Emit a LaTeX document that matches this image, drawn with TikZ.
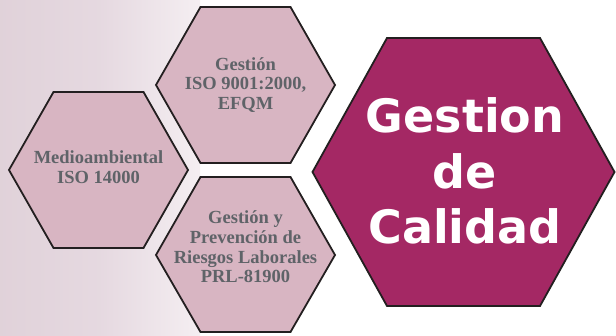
\documentclass[tikz,border=0pt]{standalone}
\usepackage{fontspec}
\newfontfamily\hexserif{Liberation Serif}
\newfontfamily\hexsans{DejaVu Sans}
\definecolor{pinkfill}{RGB}{216,181,194}
\definecolor{bigfill}{RGB}{164,40,100}
\definecolor{edgecol}{RGB}{35,31,32}
\definecolor{txtgray}{RGB}{95,99,104}
\pgfdeclarehorizontalshading{bgfade}{100bp}{
  rgb(0bp)=(0.84,0.75,0.76);
  rgb(6bp)=(0.85,0.77,0.79);
  rgb(14bp)=(0.87,0.81,0.84);
  rgb(50bp)=(0.90,0.85,0.88);
  rgb(80bp)=(0.97,0.95,0.96);
  rgb(100bp)=(1,1,1)}
\begin{document}
\begin{tikzpicture}[x=1pt,y=-1pt,
  hexsmall/.style={draw=edgecol,line width=1.8pt,fill=pinkfill,line join=miter},
  hexbig/.style={draw=edgecol,line width=1.8pt,fill=bigfill,line join=miter},
  smalltxt/.style={align=center,text=txtgray,inner sep=0pt,
    font=\hexserif\bfseries\fontsize{18.5}{19.7}\selectfont},
  bigtxt/.style={align=center,text=white,inner sep=0pt,
    font=\hexsans\bfseries\fontsize{46}{55.5}\selectfont}]
\useasboundingbox (0,0) rectangle (616,336);
% background fade
\shade[shading=bgfade] (0,0) rectangle (200,336);
% top hexagon
\draw[hexsmall] (156,85) -- (200.5,7) -- (290.5,7) -- (335,85) -- (290.5,163) -- (200.5,163) -- cycle;
% bottom hexagon
\draw[hexsmall] (156,255) -- (200.5,177) -- (290.5,177) -- (335,255) -- (290.5,332) -- (200.5,332) -- cycle;
% left hexagon
\draw[hexsmall] (9,170) -- (53.5,92) -- (143.5,92) -- (188,170) -- (143.5,248) -- (53.5,248) -- cycle;
% big hexagon
\draw[hexbig] (312.5,172) -- (387,38) -- (540,38) -- (614.5,172) -- (540,306) -- (387,306) -- cycle;
% texts
\node[smalltxt] (iso9001) at (245.5,85) {Gestión\\ISO 9001:2000,\\EFQM};
\node[smalltxt] (prl) at (245.5,247) {Gestión y\\Prevención de\\Riesgos Laborales\\PRL-81900};
\node[smalltxt] (medio) at (98.5,167) {Medioambiental\\ISO 14000};
\node[bigtxt] (calidad) at (465,171) {Gestion\\de\\Calidad};
\end{tikzpicture}
\end{document}
